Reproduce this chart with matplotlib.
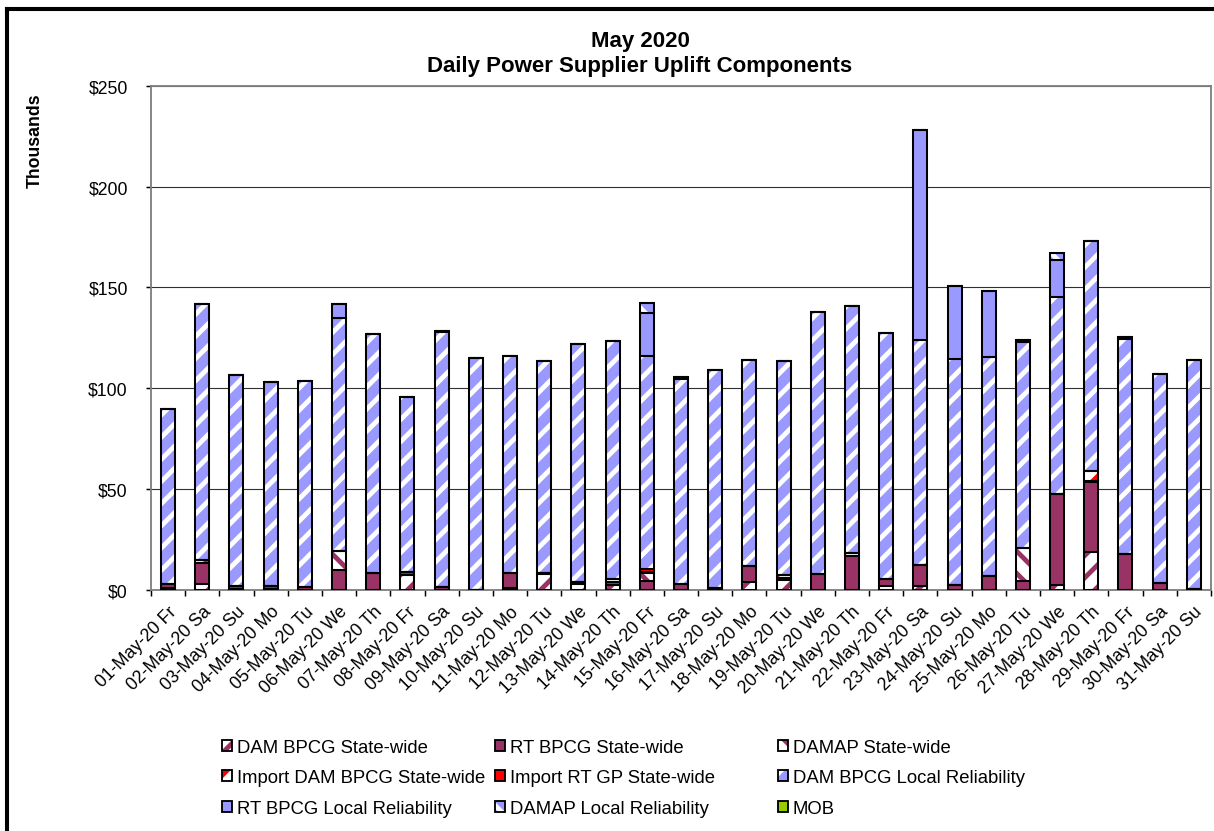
import matplotlib.pyplot as plt
import numpy as np
from matplotlib.patches import Patch
from matplotlib.lines import Line2D

plt.rcParams['font.family'] = ['Liberation Sans', 'DejaVu Sans']
plt.rcParams['hatch.linewidth'] = 2.6

days = ['01-May-20 Fr', '02-May-20 Sa', '03-May-20 Su', '04-May-20 Mo', '05-May-20 Tu',
        '06-May-20 We', '07-May-20 Th', '08-May-20 Fr', '09-May-20 Sa', '10-May-20 Su',
        '11-May-20 Mo', '12-May-20 Tu', '13-May-20 We', '14-May-20 Th', '15-May-20 Fr',
        '16-May-20 Sa', '17-May-20 Su', '18-May-20 Mo', '19-May-20 Tu', '20-May-20 We',
        '21-May-20 Th', '22-May-20 Fr', '23-May-20 Sa', '24-May-20 Su', '25-May-20 Mo',
        '26-May-20 Tu', '27-May-20 We', '28-May-20 Th', '29-May-20 Fr', '30-May-20 Sa',
        '31-May-20 Su']

# values in $ thousands
dam_bpcg_sw = [0.8, 3.0, 0.3, 0.3, 0, 0, 0, 7.5, 0, 0,
               0.8, 7.8, 2.8, 2.5, 0, 0, 0, 3.6, 5.0, 0,
               0, 2.0, 2.0, 0, 0, 0, 2.5, 18.5, 0, 0, 0]
rt_bpcg_sw = [2.2, 10.5, 1.5, 1.5, 1.5, 9.8, 8.1, 1.5, 1.5, 0,
              7.5, 0.3, 1.0, 1.2, 4.1, 2.8, 0.8, 8.0, 1.0, 7.8,
              16.6, 3.3, 10.4, 2.5, 7.0, 4.5, 45.0, 35.1, 17.7, 3.3, 0.5]
damap_sw = [0, 1.3, 0, 0, 0, 9.6, 0, 0, 0, 0,
            0, 0, 0, 1.5, 4.0, 0, 0, 0, 1.5, 0,
            1.6, 0, 0, 0, 0, 16.2, 0, 0.5, 0, 0, 0]
import_dam_bpcg_sw = [0, 0, 0, 0, 0, 0, 0, 0, 0, 0,
                      0, 0, 0, 0, 0.8, 0, 0, 0, 0, 0,
                      0, 0, 0, 0, 0, 0, 0, 5.0, 0, 0, 0]
import_rt_gp_sw = [0, 0, 0, 0, 0, 0, 0, 0, 0, 0,
                   0, 0, 0, 0, 1.3, 0, 0, 0, 0, 0,
                   0, 0, 0, 0, 0, 0, 0, 0, 0, 0, 0]
dam_bpcg_lr = [86.5, 127.0, 104.6, 101.1, 101.9, 115.6, 118.7, 86.6, 126.2, 115.0,
               107.5, 105.2, 118.0, 118.2, 106.0, 102.0, 108.1, 102.6, 105.8, 130.1,
               122.4, 122.2, 111.6, 111.8, 108.4, 102.2, 97.7, 114.2, 106.7, 103.8, 113.6]
rt_bpcg_lr = [0, 0, 0, 0, 0, 6.8, 0, 0, 0.7, 0,
              0, 0, 0, 0, 21.2, 0.8, 0, 0, 0, 0,
              0, 0, 104.3, 36.4, 33.1, 0.8, 18.2, 0, 0.8, 0, 0]
damap_lr = [0, 0, 0, 0, 0, 0, 0, 0, 0, 0,
            0, 0, 0, 0, 4.8, 0, 0, 0, 0, 0,
            0, 0, 0, 0, 0, 0, 3.8, 0, 0, 0, 0]
mob = [0] * 31

series_names = ['DAM BPCG State-wide', 'RT BPCG State-wide', 'DAMAP State-wide',
                'Import DAM BPCG State-wide', 'Import RT GP State-wide',
                'DAM BPCG Local Reliability', 'RT BPCG Local Reliability',
                'DAMAP Local Reliability', 'MOB']
series_values = [dam_bpcg_sw, rt_bpcg_sw, damap_sw, import_dam_bpcg_sw, import_rt_gp_sw,
                 dam_bpcg_lr, rt_bpcg_lr, damap_lr, mob]

# (face colour, hatch colour, hatch)
maroon = '#993366'
lav = '#9999FF'
styles = [('white', maroon, '//'),
          (maroon, maroon, None),
          ('white', maroon, '\\\\'),
          ('white', '#FF0000', '//'),
          ('#FF0000', '#FF0000', None),
          (lav, 'white', '//'),
          (lav, lav, None),
          (lav, 'white', '\\\\'),
          ('#99CC00', '#99CC00', None)]

fig = plt.figure(figsize=(9.1125, 6.24), dpi=133.33)
ax = fig.add_axes([151 / 1215, 1 - 590.7 / 832, 1060 / 1215, (590.7 - 87) / 832])

x = np.arange(len(days))
bottom = np.zeros(len(days))
bw = 0.41
for vals, (fc, hc, h) in zip(series_values, styles):
    vals = np.array(vals, dtype=float)
    ax.bar(x, vals, bw, bottom=bottom, color=fc, edgecolor=hc, hatch=h,
           linewidth=0, zorder=3)
    ax.bar(x, vals, bw, bottom=bottom, fill=False, edgecolor='black',
           linewidth=1.1, zorder=4)
    bottom += vals

ax.set_xlim(-0.5, len(days) - 0.5)
ax.set_ylim(0, 250)
ax.set_yticks(np.arange(0, 251, 50))
ax.set_yticklabels(['$%d' % v for v in range(0, 251, 50)], fontsize=9.5)
ax.yaxis.grid(True, color='#303030', linewidth=0.6, zorder=0)
ax.tick_params(axis='y', length=2.5, width=0.8, pad=10)

ax.set_xticks(x)
ax.set_xticklabels(days, rotation=45, ha='right', rotation_mode='anchor', fontsize=9.5)
ax.set_xticks(np.arange(-0.5, len(days), 1), minor=True)
ax.tick_params(axis='x', which='major', length=0, pad=7)
ax.tick_params(axis='x', which='minor', length=3, width=0.8)

for s in ax.spines.values():
    s.set_color('#808080')
    s.set_linewidth(1.0)

fig.text(35 / 1215, 1 - 141 / 832, 'Thousands', rotation=90, ha='center', va='center',
         fontsize=9.5, fontweight='bold')
fig.text(640 / 1215, 1 - 54 / 832, 'May 2020\nDaily Power Supplier Uplift Components',
         ha='center', va='center', fontsize=12, fontweight='bold', linespacing=1.2)

# legend: three fixed-width columns, row-wise like the original
handles = []
for fc, hc, h in styles:
    handles.append((Patch(facecolor=fc, edgecolor=hc, hatch=h, linewidth=0),
                    Patch(facecolor='none', edgecolor='black', linewidth=1.0)))
col_x = [222, 495, 778]
for c in range(3):
    idx = [c, c + 3, c + 6]
    fig.legend([handles[i] for i in idx], [series_names[i] for i in idx],
               loc='upper left', bbox_to_anchor=(col_x[c] / 1215, 1 - 740 / 832),
               frameon=False, fontsize=10, handlelength=0.55, handleheight=0.55,
               handletextpad=0.25, labelspacing=0.72, borderpad=0, borderaxespad=0)

# outer chart border
fig.add_artist(Line2D([7 / 1215, 7 / 1215], [0, 1 - 10 / 832], transform=fig.transFigure,
                      color='black', linewidth=2.2))
fig.add_artist(Line2D([7 / 1215, 1], [1 - 10 / 832, 1 - 10 / 832], transform=fig.transFigure,
                      color='black', linewidth=2.2))

fig.savefig('out.png', dpi=133.33)
